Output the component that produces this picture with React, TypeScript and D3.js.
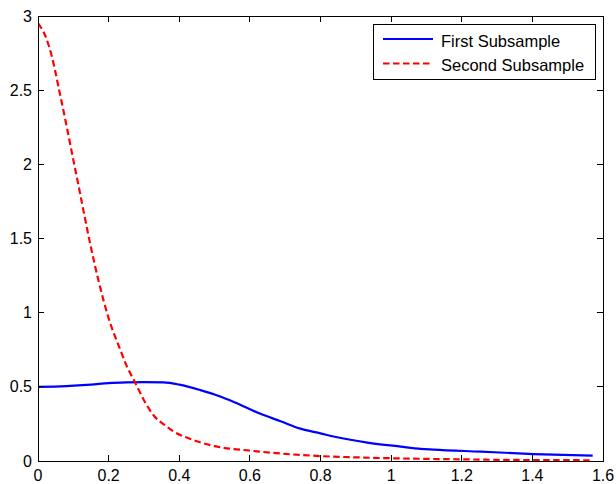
import React from "react";
import * as d3 from "d3";

const firstX = [0, 0.08, 0.15, 0.2, 0.25, 0.3, 0.355, 0.4, 0.46, 0.516, 0.553, 0.63, 0.687, 0.743, 0.8, 0.837, 0.933, 1.027, 1.084, 1.12, 1.254, 1.404, 1.5708];
const firstY = [0.5, 0.505, 0.515, 0.525, 0.53, 0.532, 0.53, 0.515, 0.478, 0.435, 0.4, 0.318, 0.268, 0.218, 0.186, 0.165, 0.124, 0.097, 0.082, 0.077, 0.063, 0.047, 0.036];

const secondX = [0, 0.02, 0.04, 0.06, 0.08, 0.1, 0.117, 0.131, 0.15, 0.173, 0.199, 0.233, 0.252, 0.275, 0.3, 0.33, 0.36, 0.383, 0.43, 0.5, 0.6, 0.7, 0.8, 0.94, 1.08, 1.2, 1.3, 1.45, 1.5708];
const secondY = [2.95, 2.87, 2.72, 2.5, 2.27, 2.03, 1.83, 1.66, 1.44, 1.2, 0.97, 0.75, 0.636, 0.53, 0.41, 0.3, 0.24, 0.2, 0.15, 0.1, 0.07, 0.048, 0.033, 0.022, 0.015, 0.011, 0.008, 0.006, 0.005];

const xTicks = [0, 0.2, 0.4, 0.6, 0.8, 1, 1.2, 1.4, 1.6];
const yTicks = [0, 0.5, 1, 1.5, 2, 2.5, 3];
const seriesNames = ["First Subsample", "Second Subsample"];

const W = 616, H = 484;
const L = 38, R = 603, T = 16, B = 461;
const FONT = "'Liberation Sans', Arial, sans-serif";

export default function App() {
  const x = d3.scaleLinear().domain([0, 1.6]).range([L, R]);
  const y = d3.scaleLinear().domain([0, 3]).range([B, T]);
  const line = d3
    .line<[number, number]>()
    .x((d) => x(d[0]))
    .y((d) => y(d[1]))
    .curve(d3.curveMonotoneX);
  const first = firstX.map((v, i) => [v, firstY[i]] as [number, number]);
  const second = secondX.map((v, i) => [v, secondY[i]] as [number, number]);
  const tl = 6;
  return (
    <svg width={W} height={H} style={{ position: "absolute", left: 0, top: 0, background: "#fff" }}>
      <rect x={0} y={0} width={W} height={H} fill="#fff" />
      <defs>
        <clipPath id="plot">
          <rect x={L} y={T} width={R - L} height={B - T} />
        </clipPath>
      </defs>
      <g clipPath="url(#plot)">
        <path d={line(first) || ""} fill="none" stroke="#0000ff" strokeWidth={2.2} />
        <path d={line(second) || ""} fill="none" stroke="#ff0000" strokeWidth={2.2} strokeDasharray="6.5,3.5" />
      </g>
      <g stroke="#000" strokeWidth={1} shapeRendering="crispEdges">
        <rect x={L} y={T} width={R - L} height={B - T} fill="none" />
        {xTicks.map((t) => (
          <g key={"xt" + t}>
            <line x1={x(t)} x2={x(t)} y1={B} y2={B - tl} />
            <line x1={x(t)} x2={x(t)} y1={T} y2={T + tl} />
          </g>
        ))}
        {yTicks.map((t) => (
          <g key={"yt" + t}>
            <line x1={L} x2={L + tl} y1={y(t)} y2={y(t)} />
            <line x1={R} x2={R - tl} y1={y(t)} y2={y(t)} />
          </g>
        ))}
      </g>
      <g fontFamily={FONT} fontSize={16} fill="#000">
        {xTicks.map((t) => (
          <text key={"xl" + t} x={x(t)} y={481} textAnchor="middle">
            {String(t)}
          </text>
        ))}
        {yTicks.map((t) => (
          <text key={"yl" + t} x={32} y={y(t) + 5.5} textAnchor="end">
            {String(t)}
          </text>
        ))}
      </g>
      <g>
        <rect x={373.5} y={24.5} width={222} height={55} fill="#fff" stroke="#000" strokeWidth={1} shapeRendering="crispEdges" />
        <line x1={383} x2={433} y1={39} y2={39} stroke="#0000ff" strokeWidth={2.2} />
        <line x1={383} x2={433} y1={63.5} y2={63.5} stroke="#ff0000" strokeWidth={2.2} strokeDasharray="6.5,3.5" />
        <text x={441} y={46.5} fontFamily={FONT} fontSize={16.5} fill="#000">{seriesNames[0]}</text>
        <text x={441} y={71} fontFamily={FONT} fontSize={16.5} fill="#000">{seriesNames[1]}</text>
      </g>
    </svg>
  );
}
